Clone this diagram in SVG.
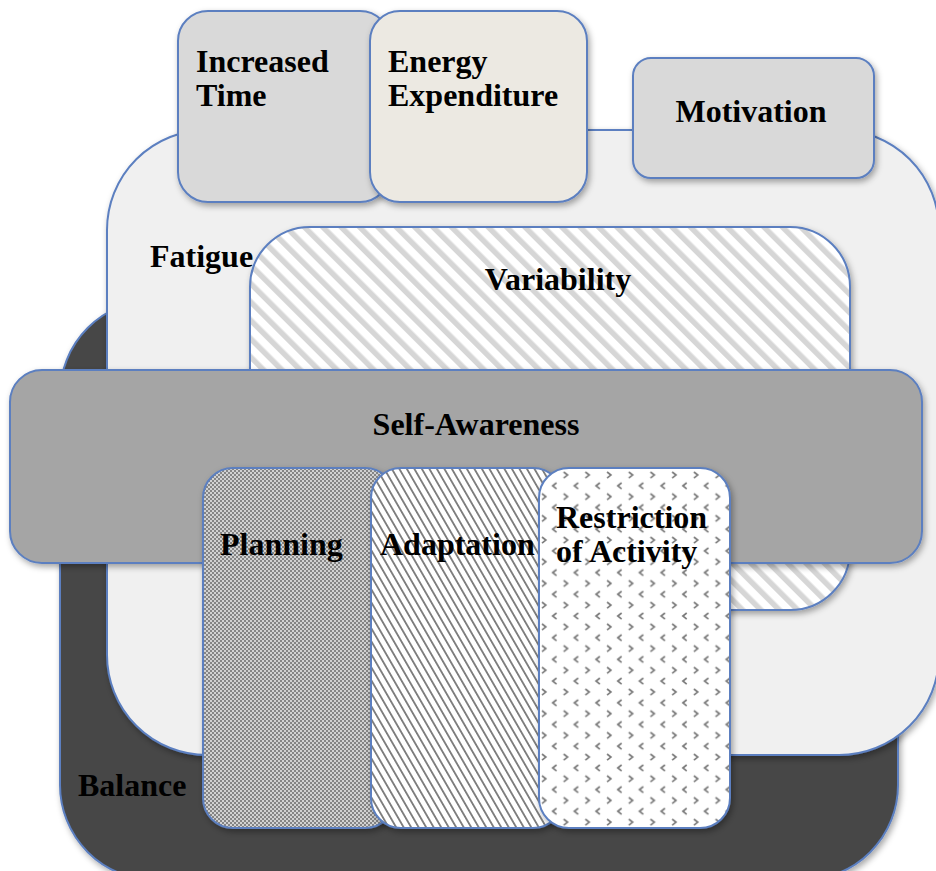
<svg xmlns="http://www.w3.org/2000/svg" width="936" height="871" viewBox="0 0 936 871">
<style>
.box{stroke:#5b7fc0;stroke-width:2}
.lbl{font-family:"Liberation Serif","Times New Roman",serif;font-weight:bold;font-size:32px;fill:#000}
.chev{fill:none;stroke:#7a7a7a;stroke-width:1.7}
</style>
<defs>
<filter id="sh" x="-10%" y="-10%" width="125%" height="125%">
<feDropShadow dx="2" dy="3" stdDeviation="3" flood-color="#000" flood-opacity="0.35"/>
</filter>
<pattern id="pStripe" width="13" height="13" patternUnits="userSpaceOnUse" patternTransform="rotate(-45)">
<rect width="13" height="13" fill="#ffffff"/>
<rect x="0" y="0" width="5.5" height="13" fill="#d6d6d6"/>
</pattern>
<pattern id="pCheck" width="4" height="4" patternUnits="userSpaceOnUse">
<rect width="4" height="4" fill="#d2d2d2"/>
<rect x="0" y="0" width="2" height="2" fill="#858585"/>
<rect x="2" y="2" width="2" height="2" fill="#858585"/>
</pattern>
<pattern id="pDiag" width="6.5" height="6.5" patternUnits="userSpaceOnUse" patternTransform="rotate(-30)">
<rect width="6.5" height="6.5" fill="#ffffff"/>
<rect x="0" y="0" width="1.8" height="6.5" fill="#7a7a7a"/>
</pattern>
<pattern id="pChev" x="539" y="470" width="21.7" height="21.7" patternUnits="userSpaceOnUse">
<rect width="21.7" height="21.7" fill="#ffffff"/>
<polyline class="chev" points="3,2 6.8,5 3,8"/>
<polyline class="chev" points="17.5,12.8 13.7,15.8 17.5,18.8"/>
</pattern>
</defs>
<rect width="936" height="871" fill="#ffffff"/>

<g id="balance">
<rect class="box" x="60" y="300" width="838" height="580" rx="95" fill="#474747" filter="url(#sh)"/>
</g>
<g id="fatigue">
<rect class="box" x="107" y="130" width="832" height="625" rx="100" fill="#f0f0f0" filter="url(#sh)"/>
</g>
<g id="increased-time">
<rect class="box" x="178" y="11" width="212" height="191" rx="30" fill="#d9d9d9" filter="url(#sh)"/>
<text class="lbl" x="196" y="72">Increased</text>
<text class="lbl" x="196" y="106">Time</text>
</g>
<g id="energy-expenditure">
<rect class="box" x="370" y="11" width="217" height="191" rx="30" fill="#ece9e2" filter="url(#sh)"/>
<text class="lbl" x="388" y="72">Energy</text>
<text class="lbl" x="388" y="106">Expenditure</text>
</g>
<g id="motivation">
<rect class="box" x="633" y="58" width="241" height="120" rx="18" fill="#d9d9d9" filter="url(#sh)"/>
<text class="lbl" x="751" y="122" text-anchor="middle">Motivation</text>
</g>
<g id="variability">
<rect class="box" x="250" y="227" width="600" height="383" rx="60" fill="url(#pStripe)" filter="url(#sh)"/>
<text class="lbl" x="558" y="290" text-anchor="middle">Variability</text>
</g>
<g id="self-awareness">
<rect class="box" x="10" y="370" width="912" height="193" rx="32" fill="#a5a5a5" filter="url(#sh)"/>
<text class="lbl" x="476" y="435" text-anchor="middle">Self-Awareness</text>
</g>
<g id="planning">
<rect class="box" x="203" y="468" width="192" height="360" rx="30" fill="url(#pCheck)" filter="url(#sh)"/>
<text class="lbl" x="220" y="555">Planning</text>
</g>
<g id="adaptation">
<rect class="box" x="371" y="468" width="192" height="360" rx="30" fill="url(#pDiag)" filter="url(#sh)"/>
<text class="lbl" x="380" y="555">Adaptation</text>
</g>
<g id="restriction">
<rect class="box" x="539" y="468" width="191" height="360" rx="30" fill="url(#pChev)" filter="url(#sh)"/>
<text class="lbl" x="556" y="528">Restriction</text>
<text class="lbl" x="556" y="562">of Activity</text>
</g>
<g id="labels">
<text class="lbl" x="150" y="267">Fatigue</text>
<text class="lbl" x="78" y="796">Balance</text>
</g>
<g id="connectors"></g>
</svg>
